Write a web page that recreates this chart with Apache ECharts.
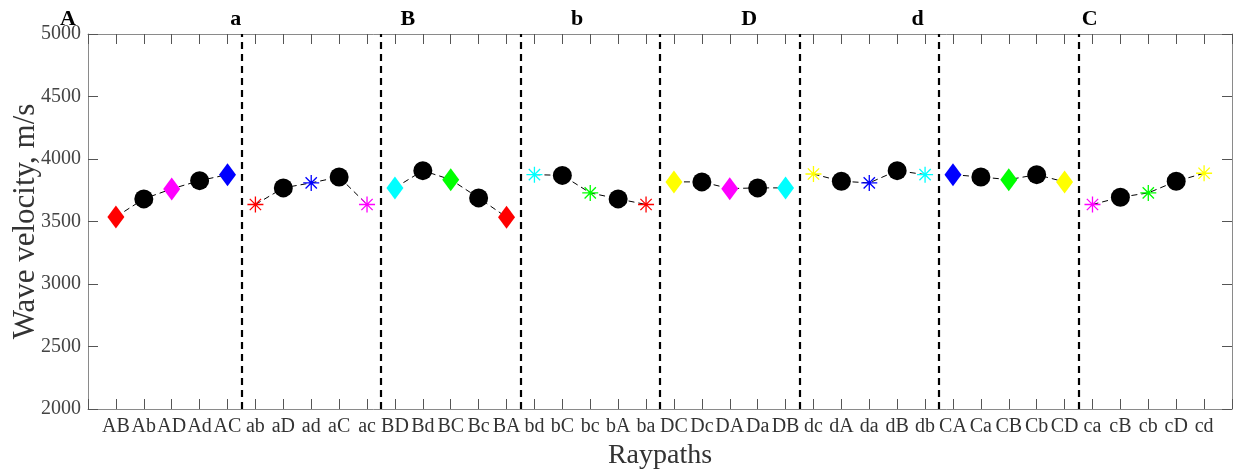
<!DOCTYPE html>
<html>
<head>
<meta charset="utf-8">
<script src="https://cdn.jsdelivr.net/npm/echarts@6/dist/echarts.min.js"></script>
<style>html,body{margin:0;padding:0;background:#fff}#c{width:1238px;height:471px}</style>
</head>
<body>
<div id="c"></div>
<script>
const categories = ['AB','Ab','AD','Ad','AC','ab','aD','ad','aC','ac','BD','Bd','BC','Bc','BA','bd','bC','bc','bA','ba','DC','Dc','DA','Da','DB','dc','dA','da','dB','db','CA','Ca','CB','Cb','CD','ca','cB','cb','cD','cd'];
const velocities = [3537,3681,3761,3827,3875, 3636,3769,3809,3856,3636, 3769,3907,3835,3689,3534, 3875,3869,3729,3681,3636, 3817,3817,3763,3769,3769, 3880,3822,3809,3907,3875, 3875,3856,3835,3875,3817, 3636,3694,3729,3822,3886];
const groupLabels = ['A','a','B','b','D','d','C'];
const groupSize = 5;
const yMin = 2000, yMax = 5000, yStep = 500;

const upperColors = {AB:'#ff0000', AD:'#ff00ff', AC:'#0000ff', BD:'#00ffff', BC:'#00ff00', CD:'#ffff00'};
const lowerColors = {ab:'#ff0000', ad:'#0000ff', ac:'#ff00ff', bd:'#00ffff', bc:'#00ff00', cd:'#ffff00'};
const STAR = 'path://M10,0L10,20M0,10L20,10M2.93,2.93L17.07,17.07M2.93,17.07L17.07,2.93';

function isUpper(ch){ return ch === ch.toUpperCase(); }
function markerItem(name, i){
  const s = name[0], t = name[1];
  const value = [i + 1, velocities[i]];
  if (isUpper(s) !== isUpper(t)) {
    return {value, symbol:'circle', symbolSize:19, itemStyle:{color:'#000', opacity:1}};
  }
  const key = [s, t].sort().join('');
  if (isUpper(s)) {
    return {value, symbol:'diamond', symbolSize:[17,23], itemStyle:{color: upperColors[key], opacity:1}};
  }
  return {value, symbol:STAR, symbolSize:16, itemStyle:{color:'none', borderColor: lowerColors[key], borderWidth:1.3, opacity:1}};
}

const lineSeries = [];
for (let g = 0; g * groupSize < categories.length; g++) {
  const pts = [];
  for (let k = 0; k < groupSize; k++) {
    const i = g * groupSize + k;
    pts.push([i + 1, velocities[i]]);
  }
  lineSeries.push({
    type:'line', data:pts, symbol:'none', z:2, silent:true,
    lineStyle:{color:'#000', width:1, type:[6,4]}
  });
}
const separators = [];
for (let g = 1; g < categories.length / groupSize; g++) separators.push({xAxis: g * groupSize + 0.5});

const font = '"Liberation Serif", serif';
const chart = echarts.init(document.getElementById('c'));
const axisLineColor = '#8a8a8a';
const tickColor = '#555';
chart.setOption({
  animation:false,
  grid:{left:88, right:6, top:34, bottom:62, outerBoundsMode:'none', containLabel:false},
  xAxis:[{
    type:'value', min:0, max:categories.length + 1, interval:1, position:'bottom',
    axisLine:{show:true, onZero:false, lineStyle:{color:axisLineColor, width:1}},
    axisTick:{show:true, inside:true, length:10, lineStyle:{color:tickColor}},
    splitLine:{show:false},
    axisLabel:{margin:8, fontFamily:font, fontSize:20, color:'#333',
      formatter:v => (Number.isInteger(v) && categories[v-1]) ? categories[v-1] : ''},
    name:'Raypaths', nameLocation:'middle', nameGap:29,
    nameTextStyle:{fontFamily:font, fontSize:28, color:'#333'}
  },{
    type:'value', min:0, max:categories.length + 1, interval:1, position:'top',
    axisLine:{show:true, onZero:false, lineStyle:{color:axisLineColor, width:1}},
    axisTick:{show:true, inside:true, length:10, lineStyle:{color:tickColor}},
    splitLine:{show:false}, axisLabel:{show:false}
  }],
  yAxis:[{
    type:'value', min:yMin, max:yMax, interval:yStep, position:'left',
    axisLine:{show:true, onZero:false, lineStyle:{color:axisLineColor, width:1}},
    axisTick:{show:true, inside:true, length:10, lineStyle:{color:tickColor}},
    splitLine:{show:false},
    axisLabel:{margin:7, fontFamily:font, fontSize:20, color:'#444', formatter:v => String(v)},
    name:'Wave velocity, m/s', nameLocation:'middle', nameGap:47, nameMoveOverlap:false,
    nameTextStyle:{fontFamily:font, fontSize:31, color:'#333'}
  },{
    type:'value', min:yMin, max:yMax, interval:yStep, position:'right',
    axisLine:{show:true, onZero:false, lineStyle:{color:axisLineColor, width:1}},
    axisTick:{show:true, inside:true, length:10, lineStyle:{color:tickColor}},
    splitLine:{show:false}, axisLabel:{show:false}
  }],
  graphic: groupLabels.map((t, i) => ({
    type:'text', left: 68 + i * 170.3 - 8, top: 8, z:10,
    style:{text:t, font:'bold 22px ' + font, fill:'#000', textAlign:'left'}
  })),
  series: lineSeries.concat([{
    type:'scatter', z:3, data: categories.map(markerItem),
    markLine:{silent:true, symbol:['none','none'], label:{show:false},
      lineStyle:{color:'#000', width:2.2, type:[7,5]}, data:separators}
  }])
});
</script>
</body>
</html>
